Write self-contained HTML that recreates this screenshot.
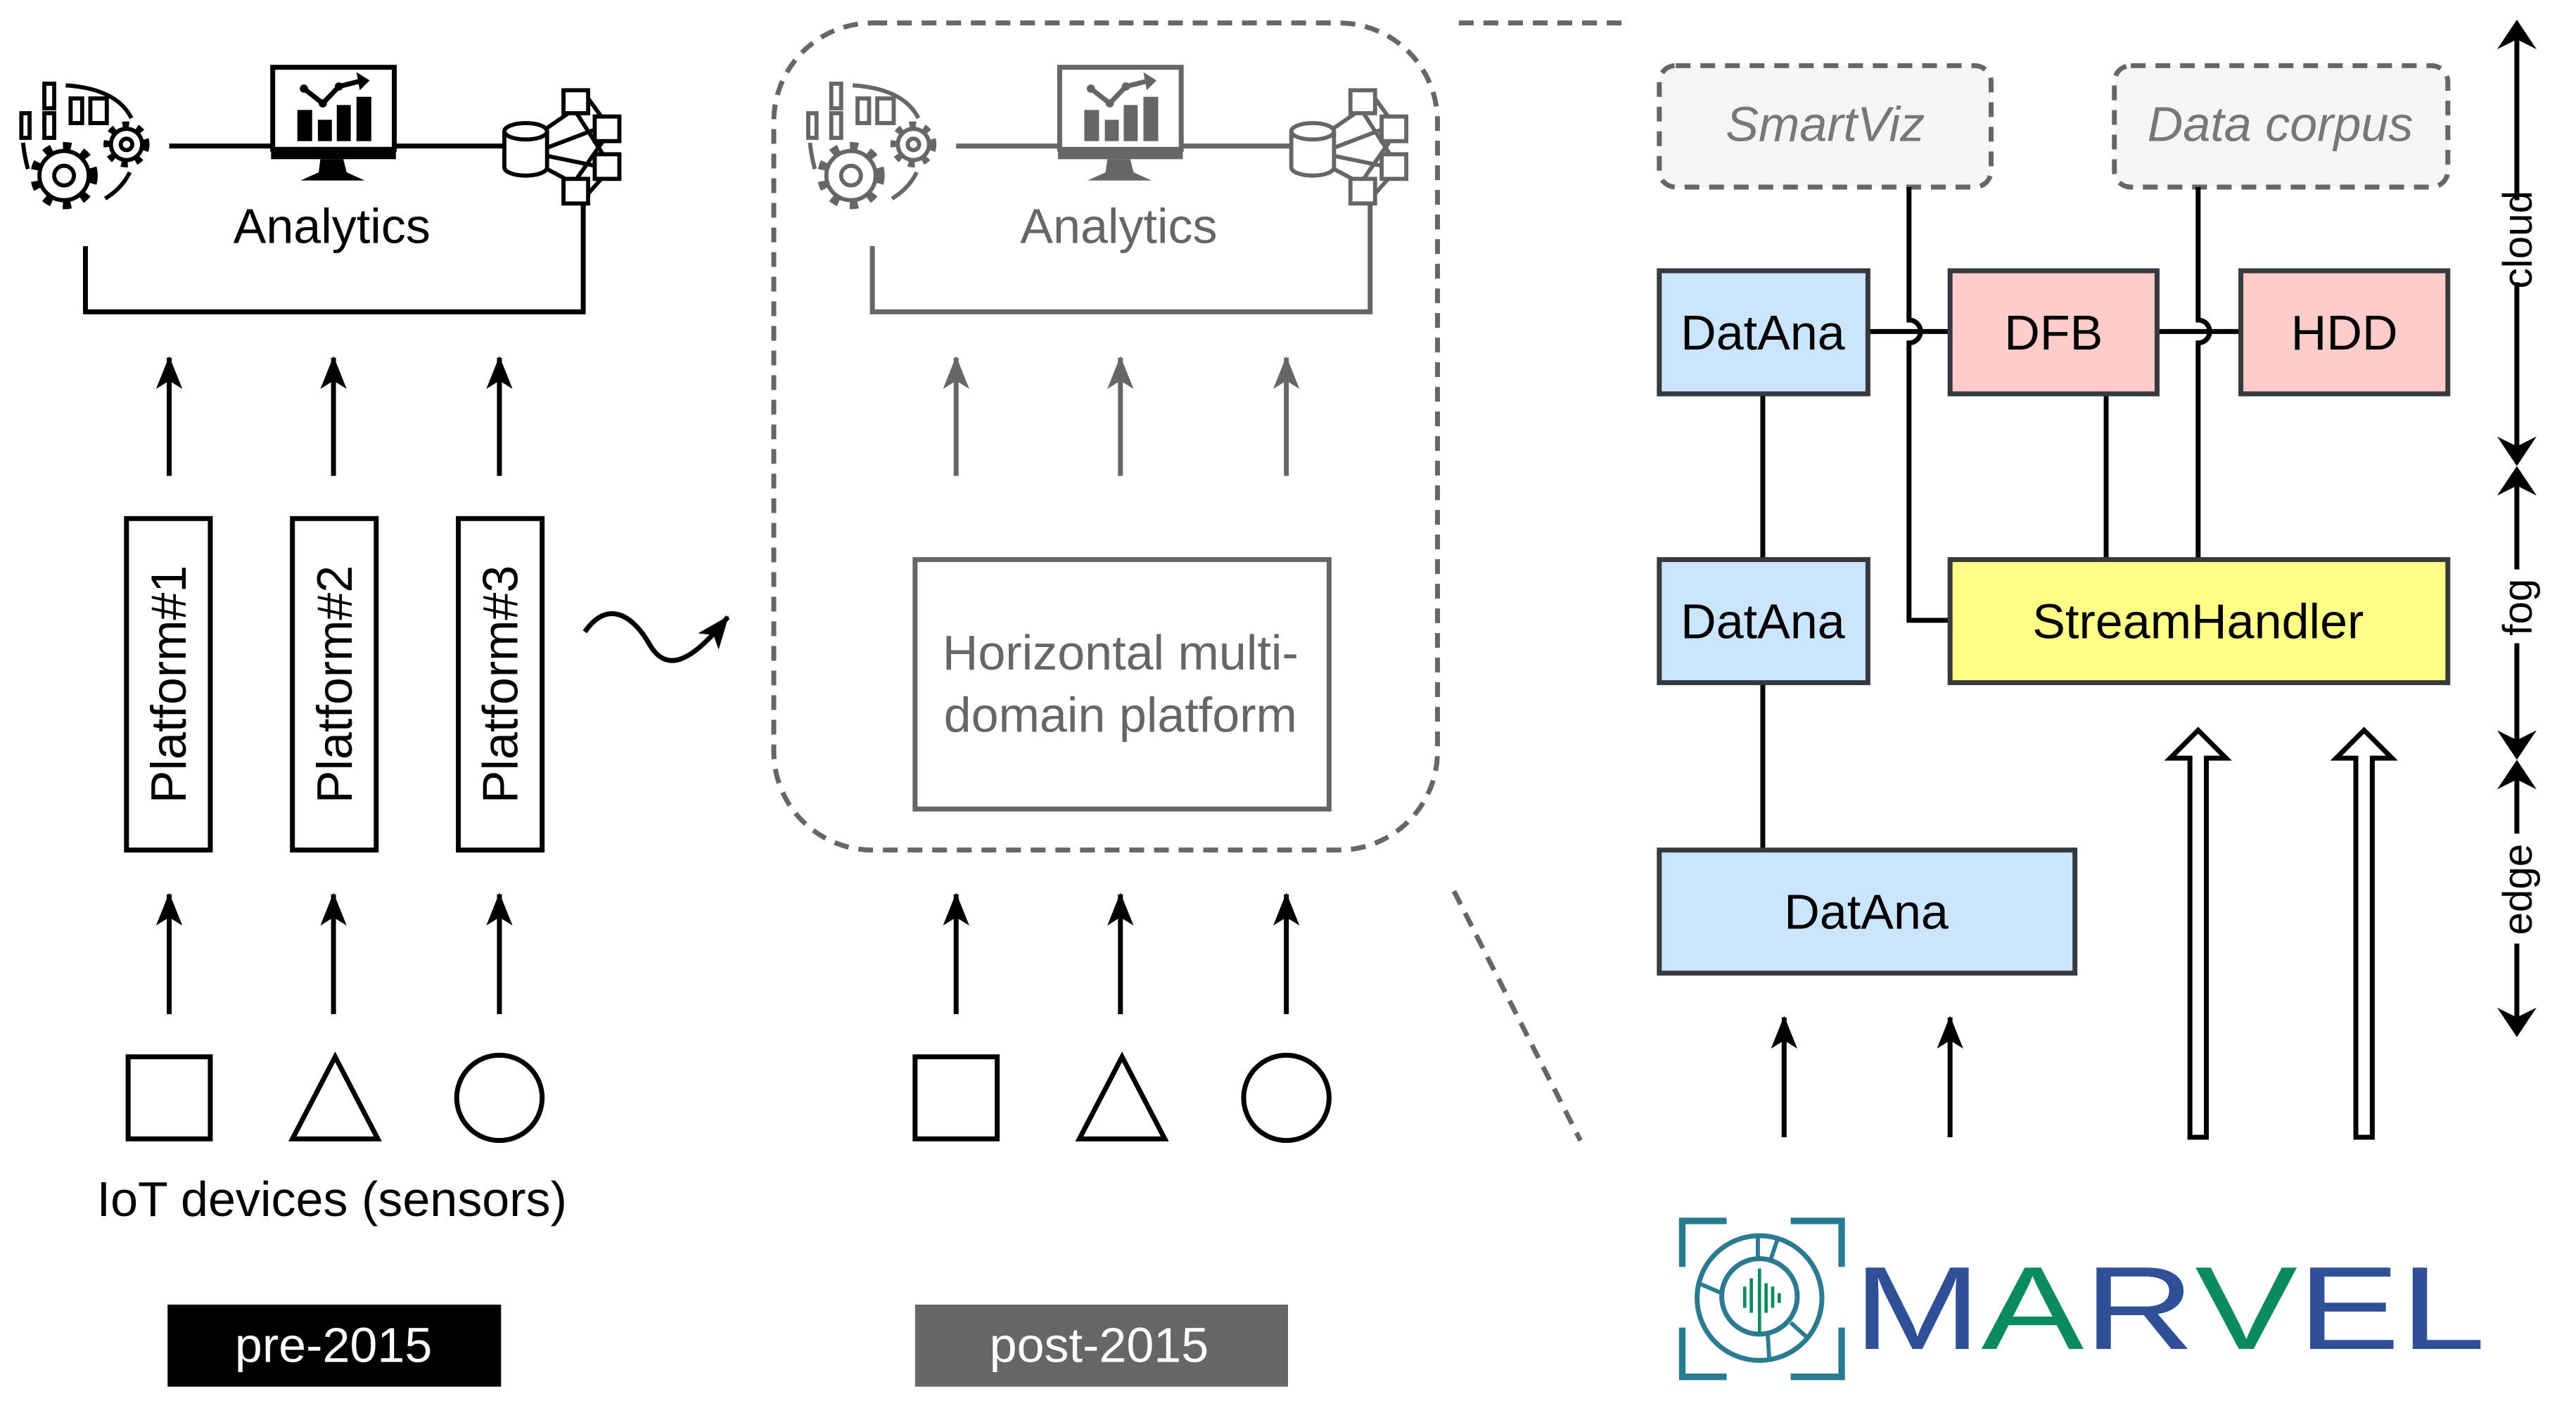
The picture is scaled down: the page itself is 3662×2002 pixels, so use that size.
<!DOCTYPE html>
<html><head><meta charset="utf-8"><style>
html,body{margin:0;padding:0;background:#fff}
svg{display:block}
text{font-family:"Liberation Sans",sans-serif}
</style></head><body>
<svg width="3662" height="2002" viewBox="0 0 1568 858" preserveAspectRatio="none" xmlns="http://www.w3.org/2000/svg">
<defs>
<marker id="ah" markerWidth="20" markerHeight="16" refX="19" refY="8" orient="auto" markerUnits="userSpaceOnUse" viewBox="0 0 20 16"><path d="M0,0 L20,8 L0,16 L5,8 Z" fill="#000"/></marker>
<marker id="ahg" markerWidth="20" markerHeight="16" refX="19" refY="8" orient="auto" markerUnits="userSpaceOnUse" viewBox="0 0 20 16"><path d="M0,0 L20,8 L0,16 L5,8 Z" fill="#666"/></marker>
<g id="icons">
  <!-- gear cluster -->
  <g fill="none" stroke-width="2.5">
    <rect x="13" y="69" width="5" height="15"/>
    <rect x="27" y="51" width="6" height="15"/>
    <rect x="27" y="69" width="6" height="15"/>
    <rect x="43" y="60" width="7" height="15"/>
    <rect x="55" y="60" width="10" height="15"/>
    <path d="M40,52 Q71,54 80,72"/>
    <path d="M14,87 Q15,96 17,103"/>
    <path d="M79,105 Q74,115 64,121"/>
  </g>
  <circle cx="39" cy="107" r="18" fill="none" stroke-width="5" stroke-dasharray="5,7"/>
  <circle cx="39" cy="107" r="15" fill="#fff" stroke-width="2.5"/>
  <circle cx="39" cy="107" r="6" fill="none" stroke-width="2.5"/>
  <circle cx="77" cy="88" r="12" fill="none" stroke-width="4" stroke-dasharray="4,5"/>
  <circle cx="77" cy="88" r="9.5" fill="#fff" stroke-width="2.5"/>
  <circle cx="77" cy="88" r="3.5" fill="none" stroke-width="2.5"/>
  <!-- monitor -->
  <g>
    <rect x="166" y="41" width="74" height="50" fill="none" stroke-width="3"/>
    <rect x="165" y="90" width="76" height="7" stroke="none"/>
    <path d="M195,97 h14 l2,8 l11,5 h-39 l11,-5 z" stroke="none"/>
    <rect x="181" y="67" width="9" height="19" stroke="none"/>
    <rect x="193.5" y="73" width="8.5" height="13" stroke="none"/>
    <rect x="205" y="64" width="8.5" height="22" stroke="none"/>
    <rect x="217" y="59" width="9" height="27" stroke="none"/>
    <path d="M185,54 L196.5,63 L206.3,52.7 L219,49.5" fill="none" stroke-width="3"/>
    <circle cx="185" cy="54" r="2.5" stroke="none"/><circle cx="196.5" cy="63" r="2.5" stroke="none"/><circle cx="206.3" cy="52.7" r="2.5" stroke="none"/>
    <path d="M217,44 L225,49 L219,55 z" stroke="none"/>
  </g>
  <!-- db network -->
  <g fill="none" stroke-width="2.5">
    <path d="M307,80 v22 a13,5 0 0 0 26,0 v-22"/><ellipse cx="320" cy="80" rx="13" ry="5"/>
    <path d="M333,78 L346,69 M333,90 L362,79 M333,95 L362,101 M333,103 L346,110 M351,69 L367,94 M351,109 L367,86 M358,60 L366,71 M358,118 L366,109"/>
    <rect x="343" y="55" width="15" height="14" fill="#fff"/>
    <rect x="362" y="71" width="15" height="15" fill="#fff"/>
    <rect x="362" y="94" width="15" height="15" fill="#fff"/>
    <rect x="343" y="109" width="15" height="15" fill="#fff"/>
  </g>
</g>
</defs>

<!-- LEFT PANEL -->
<g stroke="#000" fill="#000"><use href="#icons"/></g>
<g stroke="#000" stroke-width="3" fill="none">
  <line x1="103" y1="89" x2="165" y2="89"/><line x1="241" y1="89" x2="307" y2="89"/>
  <polyline points="52,150 52,190 355,190 355,124"/>
  <line x1="103" y1="290" x2="103" y2="218" marker-end="url(#ah)"/>
  <line x1="203" y1="290" x2="203" y2="218" marker-end="url(#ah)"/>
  <line x1="304" y1="290" x2="304" y2="218" marker-end="url(#ah)"/>
  <rect x="77" y="316" width="51" height="202"/><rect x="178" y="316" width="51" height="202"/><rect x="279" y="316" width="51" height="202"/>
  <line x1="103" y1="618" x2="103" y2="545" marker-end="url(#ah)"/>
  <line x1="203" y1="618" x2="203" y2="545" marker-end="url(#ah)"/>
  <line x1="304" y1="618" x2="304" y2="545" marker-end="url(#ah)"/>
  <rect x="78" y="644" width="50" height="50"/>
  <polygon points="204,644 178,694 230,694"/>
  <circle cx="304" cy="669" r="26"/>
  <path d="M356,385 C370,365 385,375 395,392 C405,410 420,405 443,376" marker-end="url(#ah)"/>
</g>
<text x="202" y="148" font-size="30" text-anchor="middle">Analytics</text>
<text font-size="30" text-anchor="middle" transform="translate(113,417) rotate(-90)">Platform#1</text>
<text font-size="30" text-anchor="middle" transform="translate(214,417) rotate(-90)">Platform#2</text>
<text font-size="30" text-anchor="middle" transform="translate(315,417) rotate(-90)">Platform#3</text>
<text x="202" y="741" font-size="30" text-anchor="middle">IoT devices (sensors)</text>
<rect x="102" y="795" width="203" height="50" fill="#000"/>
<text x="203" y="830" font-size="30" text-anchor="middle" fill="#fff">pre-2015</text>

<!-- MIDDLE PANEL -->
<rect x="471" y="14" width="404" height="504" rx="60" fill="none" stroke="#666" stroke-width="3" stroke-dasharray="9,6"/>
<g stroke="#666" fill="#666" transform="translate(479,0)"><use href="#icons"/></g>
<g stroke="#666" stroke-width="3" fill="none">
  <line x1="582" y1="89" x2="645" y2="89"/><line x1="720" y1="89" x2="786" y2="89"/>
  <polyline points="531,150 531,190 834,190 834,124"/>
  <rect x="557" y="341" width="252" height="152"/>
  <line x1="582" y1="290" x2="582" y2="218" marker-end="url(#ahg)"/>
  <line x1="682" y1="290" x2="682" y2="218" marker-end="url(#ahg)"/>
  <line x1="783" y1="290" x2="783" y2="218" marker-end="url(#ahg)"/>
</g>
<text x="681" y="148" font-size="30" text-anchor="middle" fill="#666">Analytics</text>
<text x="682" y="408" font-size="30" text-anchor="middle" fill="#666">Horizontal multi-</text>
<text x="682" y="446" font-size="30" text-anchor="middle" fill="#666">domain platform</text>
<g stroke="#000" stroke-width="3" fill="none">
  <line x1="582" y1="618" x2="582" y2="545" marker-end="url(#ah)"/>
  <line x1="682" y1="618" x2="682" y2="545" marker-end="url(#ah)"/>
  <line x1="783" y1="618" x2="783" y2="545" marker-end="url(#ah)"/>
  <rect x="557" y="644" width="50" height="50"/>
  <polygon points="683,644 657,694 709,694"/>
  <circle cx="783" cy="669" r="26"/>
</g>
<rect x="557" y="795" width="227" height="50" fill="#666"/>
<text x="669" y="830" font-size="30" text-anchor="middle" fill="#fff">post-2015</text>
<g stroke="#666" stroke-width="3" stroke-dasharray="9,6">
  <line x1="888" y1="14" x2="988" y2="14"/>
  <line x1="885" y1="543" x2="962" y2="695"/>
</g>

<!-- RIGHT PANEL -->
<g stroke="#666" stroke-width="3" stroke-dasharray="9,6" fill="#f5f5f5">
  <rect x="1010" y="40" width="202" height="74" rx="10"/>
  <rect x="1287" y="40" width="203" height="74" rx="10"/>
</g>
<text x="1111" y="86" font-size="30" font-style="italic" text-anchor="middle" fill="#777">SmartViz</text>
<text x="1388" y="86" font-size="30" font-style="italic" text-anchor="middle" fill="#777">Data corpus</text>
<g stroke="#000" stroke-width="3" fill="none">
  <line x1="1073" y1="240" x2="1073" y2="341"/>
  <line x1="1073" y1="416" x2="1073" y2="518"/>
  <path d="M1162,114 V195 A7,7 0 0 1 1162,209 V378 H1187"/>
  <line x1="1137" y1="202" x2="1187" y2="202"/>
  <path d="M1338,114 V195 A7,7 0 0 1 1338,209 V341"/>
  <line x1="1313" y1="202" x2="1364" y2="202"/>
  <line x1="1282" y1="240" x2="1282" y2="341"/>
  <line x1="1086" y1="693" x2="1086" y2="620" marker-end="url(#ah)"/>
  <line x1="1187" y1="693" x2="1187" y2="620" marker-end="url(#ah)"/>
</g>
<g stroke="#36393d" stroke-width="3">
  <rect x="1010" y="165" width="127" height="75" fill="#cce5ff"/>
  <rect x="1187" y="165" width="126" height="75" fill="#ffcccc"/>
  <rect x="1364" y="165" width="126" height="75" fill="#ffcccc"/>
  <rect x="1010" y="341" width="127" height="75" fill="#cce5ff"/>
  <rect x="1187" y="341" width="303" height="75" fill="#ffff88"/>
  <rect x="1010" y="518" width="253" height="75" fill="#cce5ff"/>
</g>
<g font-size="30" text-anchor="middle">
  <text x="1073" y="213">DatAna</text>
  <text x="1250" y="213">DFB</text>
  <text x="1427" y="213">HDD</text>
  <text x="1073" y="389">DatAna</text>
  <text x="1338" y="389">StreamHandler</text>
  <text x="1136" y="566">DatAna</text>
</g>
<g stroke="#000" stroke-width="3" fill="#fff">
  <path d="M1333,693 V462 H1321 L1338,445 L1355,462 H1343 V693 Z"/>
  <path d="M1434,693 V462 H1422 L1439,445 L1456,462 H1444 V693 Z"/>
</g>

<!-- axis -->
<g stroke="#000" stroke-width="3">
  <line x1="1532" y1="20" x2="1532" y2="122"/><line x1="1532" y1="172" x2="1532" y2="278"/>
  <line x1="1532" y1="290" x2="1532" y2="347"/><line x1="1532" y1="392" x2="1532" y2="458"/>
  <line x1="1532" y1="470" x2="1532" y2="508"/><line x1="1532" y1="575" x2="1532" y2="625"/>
</g>
<g fill="#000">
  <path d="M1532,12 L1520,30 L1532,24 L1544,30 Z"/>
  <path d="M1532,284 L1520,266 L1532,272 L1544,266 Z"/>
  <path d="M1532,284 L1520,302 L1532,296 L1544,302 Z"/>
  <path d="M1532,463 L1520,445 L1532,451 L1544,445 Z"/>
  <path d="M1532,463 L1520,481 L1532,475 L1544,481 Z"/>
  <path d="M1532,632 L1520,614 L1532,620 L1544,614 Z"/>
</g>
<g font-size="25" text-anchor="middle">
  <text transform="translate(1541,146) rotate(-90)">cloud</text>
  <text transform="translate(1541,370) rotate(-90)">fog</text>
  <text transform="translate(1541,542) rotate(-90)">edge</text>
</g>

<!-- MARVEL logo -->
<g fill="none" stroke="#2a7a90">
  <path d="M1051,744 H1024 V772 M1090,744 H1121 V772 M1024,809 V839 H1051 M1121,809 V839 H1090" stroke-width="4"/>
  <circle cx="1071" cy="791" r="38" stroke-width="3"/>
  <ellipse cx="1071" cy="790" rx="23" ry="23" stroke-width="3"/>
  <path d="M1070,753 V767 M1082,755 L1078,767 M1034,782 L1048,788 M1090,806 L1100,815 M1076,813 L1077,829" stroke-width="2.5"/>
</g>
<g stroke="#0a8a60" stroke-width="2">
  <path d="M1062,784 V797 M1066,779 V800 M1071,773 V813 M1075,782 V800 M1079,784 V797 M1083,788 V794"/>
</g>
<text x="1128" y="822" font-size="72" textLength="385" lengthAdjust="spacingAndGlyphs" fill="#2f4f96">M<tspan fill="#0a8a60">A</tspan>R<tspan fill="#0a8a60">V</tspan>EL</text>
</svg>
</body></html>
